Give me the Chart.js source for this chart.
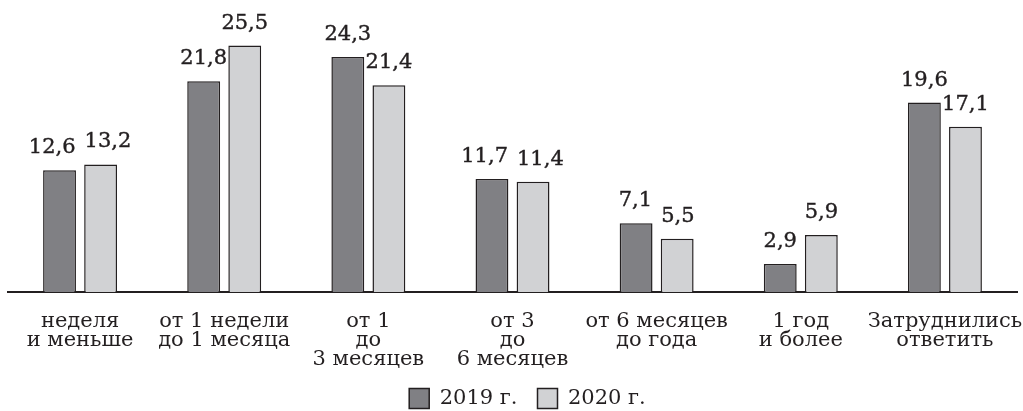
<!DOCTYPE html>
<html>
<head>
<meta charset="utf-8">
<script src="https://cdn.jsdelivr.net/npm/chart.js@4.4.0/dist/chart.umd.min.js"></script>
<style>
html, body { margin: 0; padding: 0; background: #fff; }
</style>
</head>
<body>
<canvas id="barChart1" width="1023" height="411"></canvas>
<script>
// ---------------------------
// Data
// ---------------------------
const categories = [
    ["неделя", "и меньше"],
    ["от 1 недели", "до 1 месяца"],
    ["от 1", "до", "3 месяцев"],
    ["от 3", "до", "6 месяцев"],
    ["от 6 месяцев", "до года"],
    ["1 год", "и более"],
    ["Затруднились", "ответить"]
];
const seriesNames = ["2019 г.", "2020 г."];
const values2019 = [12.6, 21.8, 24.3, 11.7, 7.1, 2.9, 19.6];
const values2020 = [13.2, 25.5, 21.4, 11.4, 5.5, 5.9, 17.1];
const yMin = 0;
const yMax = 30;

// ---------------------------
// Styles
// ---------------------------
const ink = "#231f20";
const darkFill = "#808084";
const lightFill = "#d1d2d4";
const serif = "'DejaVu Serif', serif";

// comma as decimal mark
function fmt(v) {
    return v.toFixed(1).replace(".", ",");
}

// -------------------------------------------
// Value labels above the bars
// -------------------------------------------
const valueLabels = {
    id: "valueLabels",
    afterLayout(chart) {
        // legend sits a little right of centre in the original
        chart.legend.left += 15;
        chart.legend.right += 15;
    },
    afterDatasetsDraw(chart) {
        let ctx = chart.ctx;
        ctx.save();
        ctx.font = "21px " + serif;
        ctx.fillStyle = ink;
        ctx.strokeStyle = ink;
        ctx.lineWidth = 0.4;
        ctx.textAlign = "center";
        ctx.textBaseline = "alphabetic";
        let bars0 = chart.getDatasetMeta(0).data;
        let bars1 = chart.getDatasetMeta(1).data;
        for (let i = 0; i < bars0.length; i++) {
            let a = { bar: bars0[i], text: fmt(values2019[i]) };
            let b = { bar: bars1[i], text: fmt(values2020[i]) };
            [a, b].forEach(function (l) {
                l.w = ctx.measureText(l.text).width;
                l.x = l.bar.x;
                l.y = l.bar.y - 17;
            });
            // push apart labels that sit on the same level and collide
            if (Math.abs(a.y - b.y) < 18) {
                let overlap = (a.x + a.w / 2 + 9) - (b.x - b.w / 2);
                if (overlap > 0) {
                    a.x -= overlap / 2;
                    b.x += overlap / 2;
                }
            }
            [a, b].forEach(function (l) {
                ctx.fillText(l.text, l.x, l.y);
                ctx.strokeText(l.text, l.x, l.y);
            });
        }
        ctx.restore();
    }
};

let ctx = document.getElementById("barChart1").getContext("2d");
let myChart = new Chart(ctx, {
    type: "bar",
    data: {
        labels: categories,
        datasets: [{
            label: seriesNames[0],
            data: values2019,
            backgroundColor: darkFill,
            borderColor: ink,
            borderWidth: 1.5,
            categoryPercentage: 0.57,
            barPercentage: 0.8
        }, {
            label: seriesNames[1],
            data: values2020,
            backgroundColor: lightFill,
            borderColor: ink,
            borderWidth: 1.5,
            categoryPercentage: 0.57,
            barPercentage: 0.8
        }]
    },
    options: {
        responsive: false,
        animation: false,
        layout: {
            padding: { top: 2, left: 8, right: 6, bottom: -8 }
        },
        scales: {
            x: {
                grid: { display: false, drawTicks: false },
                border: { display: true, color: ink, width: 2 },
                ticks: {
                    color: ink,
                    padding: 20,
                    maxRotation: 0,
                    autoSkip: false,
                    font: { family: serif, size: 21, lineHeight: 0.9 }
                },
                afterFit: function (scale) {
                    scale.height = 76;
                    scale.paddingLeft = 0;
                    scale.paddingRight = 0;
                }
            },
            y: {
                display: false,
                min: yMin,
                max: yMax
            }
        },
        plugins: {
            legend: {
                position: "bottom",
                labels: {
                    color: ink,
                    boxWidth: 20,
                    boxHeight: 20,
                    padding: 20,
                    font: { family: serif, size: 21 }
                }
            },
            tooltip: { enabled: false }
        }
    },
    plugins: [valueLabels]
});
</script>
</body>
</html>
